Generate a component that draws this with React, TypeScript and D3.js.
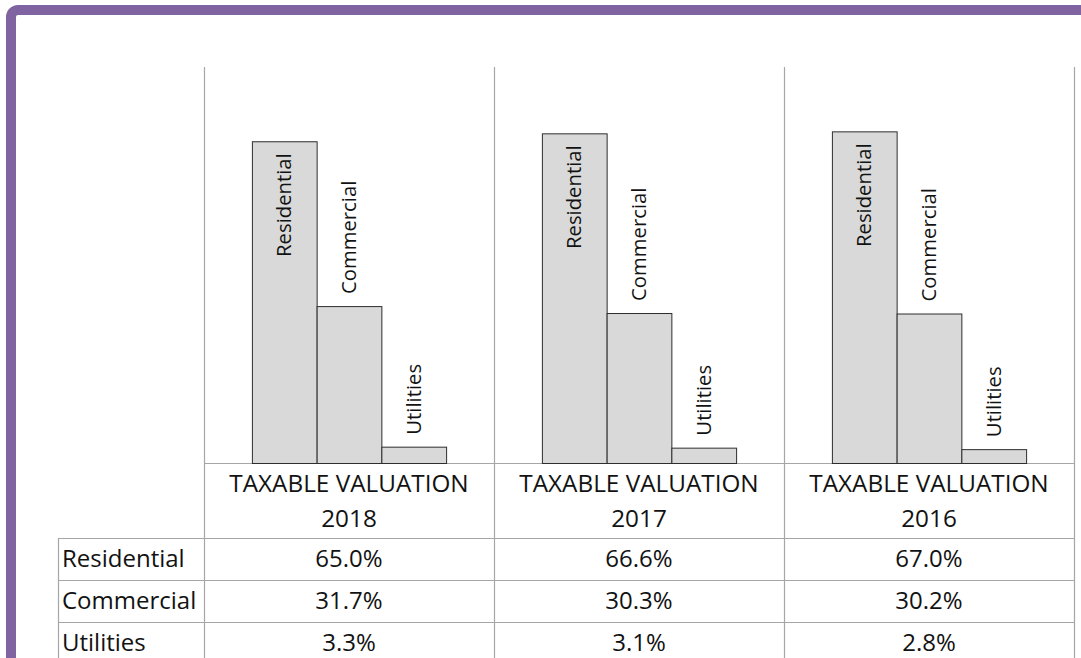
import React from "react";
import * as d3 from "d3";

// values (percent of taxable valuation)
const years = ["2018", "2017", "2016"];
const categories = ["Residential", "Commercial", "Utilities"];
const residential = [65.0, 66.6, 67.0];
const commercial = [31.7, 30.3, 30.2];
const utilities = [3.3, 3.1, 2.8];
const headerLabel = "TAXABLE VALUATION";

const seriesValues = [residential, commercial, utilities];

const W = 1081;
const H = 658;
const FONT = "'Open Sans', 'Noto Sans', sans-serif";
const GRID = "#a6a6a6";
const TEXT = "#121212";

export default function App() {
  const plot = { left: 204, right: 1074, top: 67, bottom: 463 };
  const table = { left: 58, headerBottom: 538, rowH: 42 };

  const x = d3.scaleBand<string>().domain(years).range([plot.left, plot.right]);
  const inner = d3
    .scaleBand<string>()
    .domain(categories)
    .range([0, x.bandwidth()])
    .paddingInner(0)
    .paddingOuter(0.74);
  const y = d3.scaleLinear().domain([0, 80]).range([plot.bottom, plot.top]);
  const fmt = d3.format(".1f");

  const labelFont = 20.3;
  const pad = 12;
  const approxLen = (s: string) => s.length * labelFont * 0.47;

  const bars = years.flatMap((yr, gi) =>
    categories.map((cat, ci) => ({
      yr,
      cat,
      v: seriesValues[ci][gi],
      x0: (x(yr) ?? 0) + (inner(cat) ?? 0),
    }))
  );

  const vLines = [...years.map((yr) => x(yr) ?? 0), plot.right];

  return (
    <svg
      width={W}
      height={H}
      style={{ position: "absolute", left: 0, top: 0, background: "#fff" }}
      fontFamily={FONT}
    >
      {/* frame */}
      <rect x={11} y={10} width={W + 40} height={H + 40} rx={7} fill="none" stroke="#8064a2" strokeWidth={10} />

      {/* vertical grid / table separators */}
      {vLines.map((vx, i) => (
        <line key={`v${i}`} x1={vx + 0.5} x2={vx + 0.5} y1={plot.top} y2={H} stroke={GRID} strokeWidth={1.2} />
      ))}
      <line x1={table.left + 0.5} x2={table.left + 0.5} y1={table.headerBottom} y2={H} stroke={GRID} strokeWidth={1.2} />

      {/* category axis line */}
      <line x1={plot.left} x2={plot.right} y1={plot.bottom + 0.5} y2={plot.bottom + 0.5} stroke={GRID} strokeWidth={1.2} />

      {/* table row lines */}
      {categories.map((c, i) => (
        <line
          key={`h${c}`}
          x1={table.left}
          x2={plot.right}
          y1={table.headerBottom + i * table.rowH + 0.5}
          y2={table.headerBottom + i * table.rowH + 0.5}
          stroke={GRID}
          strokeWidth={1.2}
        />
      ))}

      {/* bars */}
      {bars.map((b) => (
        <rect
          key={`${b.yr}-${b.cat}`}
          x={b.x0 + 0.5}
          y={y(b.v) + 0.5}
          width={inner.bandwidth()}
          height={y(0) - y(b.v)}
          fill="#d9d9d9"
          stroke="#2e2e2e"
          strokeWidth={1}
        />
      ))}

      {/* rotated data labels: outside end, inside when there is no room */}
      {bars.map((b) => {
        const cx = b.x0 + inner.bandwidth() / 2;
        const top = y(b.v);
        const fits = top - pad - approxLen(b.cat) > plot.top;
        const ty = fits ? top - pad : top + pad;
        return (
          <text
            key={`l${b.yr}-${b.cat}`}
            transform={`translate(${cx + 7},${ty}) rotate(-90)`}
            textAnchor={fits ? "start" : "end"}
            fontSize={labelFont}
            fill={TEXT}
          >
            {b.cat}
          </text>
        );
      })}

      {/* header cells */}
      {years.map((yr) => {
        const cx = (x(yr) ?? 0) + x.bandwidth() / 2;
        return (
          <g key={`hd${yr}`} fontSize={24.3} fill={TEXT} textAnchor="middle">
            <text x={cx} y={plot.bottom + 29}>{headerLabel}</text>
            <text x={cx} y={plot.bottom + 64}>{yr}</text>
          </g>
        );
      })}

      {/* table body */}
      {categories.map((cat, ci) => {
        const by = table.headerBottom + ci * table.rowH + 28.5;
        return (
          <g key={`r${cat}`} fontSize={24} fill={TEXT}>
            <text x={table.left + 4} y={by}>{cat}</text>
            {years.map((yr, gi) => (
              <text key={yr} x={(x(yr) ?? 0) + x.bandwidth() / 2} y={by} textAnchor="middle">
                {fmt(seriesValues[ci][gi])}%
              </text>
            ))}
          </g>
        );
      })}
    </svg>
  );
}
